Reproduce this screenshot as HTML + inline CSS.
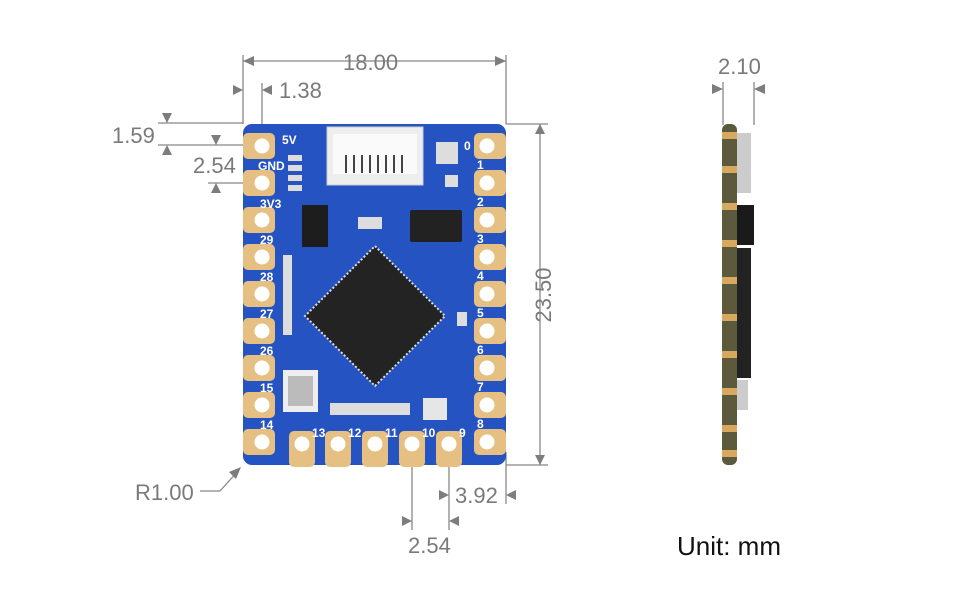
<!DOCTYPE html>
<html><head><meta charset="utf-8"><style>
html,body{margin:0;padding:0;background:#fff;width:960px;height:600px;overflow:hidden}
svg{display:block}
text{font-family:"Liberation Sans",sans-serif;fill:#7a7a7a}
text.w{fill:#fff}
</style></head><body>
<svg width="960" height="600" viewBox="0 0 960 600" xmlns="http://www.w3.org/2000/svg">
<defs>
<g id="lpad"><rect x="-19" y="-13" width="32" height="26" rx="5" fill="#e6c083"/><circle cx="0" cy="0" r="7.5" fill="#fff"/></g>
<g id="rpad"><rect x="-13" y="-13" width="32" height="26" rx="5" fill="#e6c083"/><circle cx="0" cy="0" r="7.5" fill="#fff"/></g>
<g id="bpad"><rect x="-13" y="-13" width="26" height="36" rx="5" fill="#e6c083"/><circle cx="0" cy="0" r="7.5" fill="#fff"/></g>
</defs>
<g stroke="#888" stroke-width="1.3" fill="none">
<line x1="243" y1="55" x2="243" y2="124"/><line x1="506" y1="55" x2="506" y2="124"/>
<line x1="243" y1="61" x2="506" y2="61"/>
<line x1="262" y1="83" x2="262" y2="124"/>
<line x1="158" y1="123" x2="243" y2="123"/><line x1="158" y1="145" x2="250" y2="145"/>
<line x1="208" y1="183" x2="250" y2="183"/>
<line x1="506" y1="124" x2="548" y2="124"/><line x1="506" y1="465" x2="548" y2="465"/>
<line x1="540" y1="124" x2="540" y2="465"/>
<line x1="412" y1="458" x2="412" y2="530"/><line x1="449" y1="458" x2="449" y2="530"/>
<line x1="506" y1="452" x2="506" y2="504"/>
<polyline points="200,491 220,491 238,471"/>
<line x1="723" y1="82" x2="723" y2="125"/><line x1="754" y1="82" x2="754" y2="125"/>
</g>
<g fill="#7d7d7d">
<polygon points="243,61 254,56 254,66"/><polygon points="506,61 495,56 495,66"/>
<polygon points="243,90 233,85 233,95"/><polygon points="262,90 272,85 272,95"/>
<polygon points="167,123 162,113 172,113"/><polygon points="167,145 162,155 172,155"/>
<polygon points="216,145 211,135 221,135"/><polygon points="216,183 211,193 221,193"/>
<polygon points="540,124 535,134 545,134"/><polygon points="540,465 535,455 545,455"/>
<polygon points="449,495 439,490 439,500"/><polygon points="506,495 516,490 516,500"/>
<polygon points="412,521 402,516 402,526"/><polygon points="449,521 459,516 459,526"/>
<polygon points="241,467 229,472 236,479"/>
<polygon points="723,89 712,84 712,94"/><polygon points="754,89 765,84 765,94"/>
</g>
<g font-size="22">
<text x="343" y="70">18.00</text>
<text x="279" y="98">1.38</text>
<text x="112" y="143">1.59</text>
<text x="193" y="173">2.54</text>
<text x="551" y="295" transform="rotate(-90 551 295)" text-anchor="middle">23.50</text>
<text x="135" y="500">R1.00</text>
<text x="455" y="503">3.92</text>
<text x="408" y="553">2.54</text>
<text x="718" y="74">2.10</text>
</g>
<text x="677" y="555" font-size="26" style="fill:#111">Unit: mm</text>

<rect x="243" y="124" width="263" height="341" rx="9" fill="#2553c2"/>
<g>
<use href="#lpad" x="262" y="146"/><use href="#lpad" x="262" y="183"/><use href="#lpad" x="262" y="220"/>
<use href="#lpad" x="262" y="257"/><use href="#lpad" x="262" y="294"/><use href="#lpad" x="262" y="331"/>
<use href="#lpad" x="262" y="368"/><use href="#lpad" x="262" y="405"/><use href="#lpad" x="262" y="442"/>
<use href="#rpad" x="487" y="146"/><use href="#rpad" x="487" y="183"/><use href="#rpad" x="487" y="220"/>
<use href="#rpad" x="487" y="257"/><use href="#rpad" x="487" y="294"/><use href="#rpad" x="487" y="331"/>
<use href="#rpad" x="487" y="368"/><use href="#rpad" x="487" y="405"/><use href="#rpad" x="487" y="442"/>
<use href="#bpad" x="302" y="444"/><use href="#bpad" x="338" y="444"/><use href="#bpad" x="375" y="444"/>
<use href="#bpad" x="412" y="444"/><use href="#bpad" x="449" y="444"/>
</g>
<rect x="327" y="127" width="96" height="58" fill="#eee" stroke="#ccc"/>
<rect x="333" y="134" width="84" height="40" fill="#fafafa"/>
<g fill="#444"><rect x="345" y="155" width="2" height="18"/><rect x="353" y="155" width="2" height="18"/><rect x="361" y="155" width="2" height="18"/><rect x="369" y="155" width="2" height="18"/><rect x="377" y="155" width="2" height="18"/><rect x="385" y="155" width="2" height="18"/><rect x="393" y="155" width="2" height="18"/><rect x="401" y="155" width="2" height="18"/></g>
<rect x="410" y="210" width="52" height="32" rx="2" fill="#222"/>
<rect x="302" y="205" width="26" height="42" fill="#1d1d1d"/>
<polygon points="375,246 445,316 375,386 305,316" fill="#232323" stroke="#ddd" stroke-width="2" stroke-dasharray="2 2"/>
<rect x="283" y="370" width="35" height="42" fill="#eee"/><rect x="288" y="376" width="25" height="30" fill="#bbb"/>
<rect x="423" y="398" width="24" height="22" fill="#e6e6e6"/>
<g fill="#ddd">
<rect x="288" y="155" width="14" height="6"/><rect x="288" y="165" width="14" height="6"/><rect x="288" y="175" width="14" height="6"/><rect x="288" y="185" width="14" height="6"/>
<rect x="436" y="142" width="22" height="22"/><rect x="445" y="175" width="13" height="12"/>
<rect x="358" y="217" width="24" height="12"/>
<rect x="283" y="255" width="9" height="80"/>
<rect x="330" y="403" width="80" height="12"/>
<rect x="457" y="312" width="10" height="14"/>
</g>
<g font-size="12" font-weight="bold">
<text class="w" x="282" y="144">5V</text><text class="w" x="258" y="170">GND</text><text class="w" x="260" y="208">3V3</text>
<text class="w" x="260" y="244">29</text><text class="w" x="260" y="281">28</text><text class="w" x="260" y="318">27</text><text class="w" x="260" y="355">26</text>
<text class="w" x="260" y="392">15</text><text class="w" x="260" y="429">14</text>
<text class="w" x="312" y="437">13</text><text class="w" x="348" y="437">12</text><text class="w" x="385" y="437">11</text><text class="w" x="422" y="437">10</text><text class="w" x="459" y="437">9</text>
<text class="w" x="464" y="150">0</text><text class="w" x="477" y="169">1</text><text class="w" x="477" y="206">2</text><text class="w" x="477" y="243">3</text>
<text class="w" x="477" y="280">4</text><text class="w" x="477" y="317">5</text><text class="w" x="477" y="354">6</text><text class="w" x="477" y="391">7</text><text class="w" x="477" y="428">8</text>
</g>
<rect x="722" y="124" width="15" height="341" rx="6" fill="#5b5a3c"/>
<g fill="#d9a860">
<rect x="722" y="132" width="15" height="7"/><rect x="722" y="166" width="15" height="7"/><rect x="722" y="203" width="15" height="7"/><rect x="722" y="240" width="15" height="7"/><rect x="722" y="277" width="15" height="7"/><rect x="722" y="314" width="15" height="7"/><rect x="722" y="351" width="15" height="7"/><rect x="722" y="388" width="15" height="7"/><rect x="722" y="425" width="15" height="7"/><rect x="722" y="450" width="15" height="7"/>
</g>
<rect x="737" y="133" width="14" height="60" fill="#ccc"/>
<rect x="737" y="205" width="17" height="40" fill="#1a1a1a"/>
<rect x="737" y="248" width="14" height="130" fill="#222"/>
<rect x="737" y="380" width="11" height="30" fill="#ccc"/>
</svg>
</body></html>
